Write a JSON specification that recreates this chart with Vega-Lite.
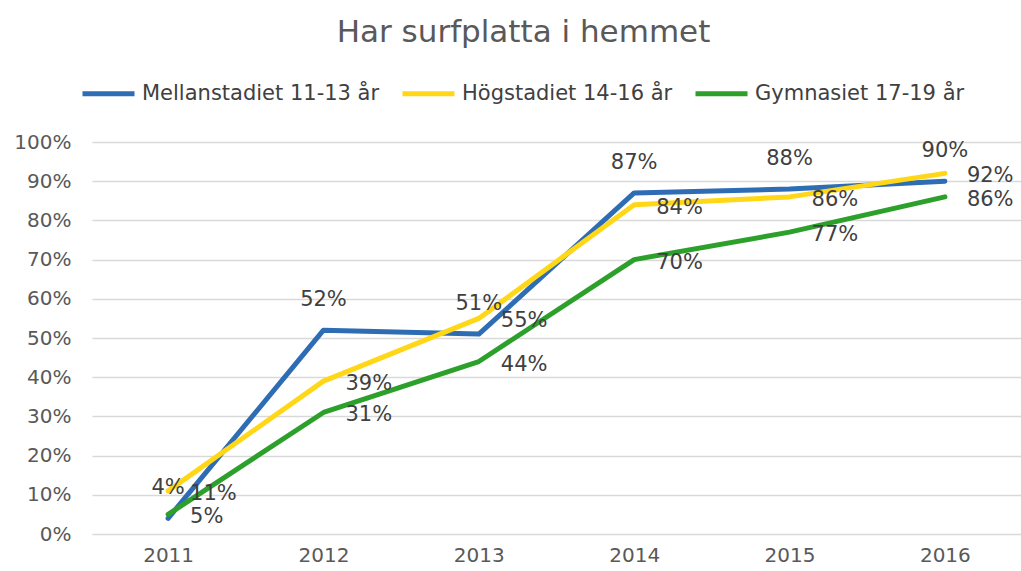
{
  "$schema": "https://vega.github.io/schema/vega-lite/v6.json",
  "autosize": {"type": "none"},
  "padding": {"left": 92, "top": 142, "right": 0, "bottom": 37},
  "width": 929,
  "height": 392,
  "background": "white",
  "title": {
    "text": "Har surfplatta i hemmet",
    "font": "DejaVu Sans",
    "fontSize": 31,
    "fontWeight": "normal",
    "color": "#595959",
    "anchor": "middle",
    "dx": -33,
    "offset": 16
  },
  "config": {
    "view": {"stroke": null},
    "font": "DejaVu Sans"
  },
  "data": {
    "values": [
      {"year": "2011", "group": "Mellanstadiet 11-13 år", "value": 0.04},
      {"year": "2012", "group": "Mellanstadiet 11-13 år", "value": 0.52},
      {"year": "2013", "group": "Mellanstadiet 11-13 år", "value": 0.51},
      {"year": "2014", "group": "Mellanstadiet 11-13 år", "value": 0.87},
      {"year": "2015", "group": "Mellanstadiet 11-13 år", "value": 0.88},
      {"year": "2016", "group": "Mellanstadiet 11-13 år", "value": 0.90},
      {"year": "2011", "group": "Högstadiet 14-16 år", "value": 0.11},
      {"year": "2012", "group": "Högstadiet 14-16 år", "value": 0.39},
      {"year": "2013", "group": "Högstadiet 14-16 år", "value": 0.55},
      {"year": "2014", "group": "Högstadiet 14-16 år", "value": 0.84},
      {"year": "2015", "group": "Högstadiet 14-16 år", "value": 0.86},
      {"year": "2016", "group": "Högstadiet 14-16 år", "value": 0.92},
      {"year": "2011", "group": "Gymnasiet 17-19 år", "value": 0.05},
      {"year": "2012", "group": "Gymnasiet 17-19 år", "value": 0.31},
      {"year": "2013", "group": "Gymnasiet 17-19 år", "value": 0.44},
      {"year": "2014", "group": "Gymnasiet 17-19 år", "value": 0.70},
      {"year": "2015", "group": "Gymnasiet 17-19 år", "value": 0.77},
      {"year": "2016", "group": "Gymnasiet 17-19 år", "value": 0.86}
    ]
  },
  "encoding": {
    "x": {
      "field": "year",
      "type": "ordinal",
      "scale": {"type": "point", "padding": 0.49},
      "axis": {
        "title": null,
        "labelAngle": 0,
        "labelFont": "DejaVu Sans",
        "labelFontSize": 20,
        "labelColor": "#595959",
        "labelPadding": 11,
        "ticks": false,
        "domain": false,
        "grid": false
      }
    },
    "y": {
      "field": "value",
      "type": "quantitative",
      "scale": {"domain": [0, 1], "nice": false},
      "axis": {
        "title": null,
        "format": ".0%",
        "values": [0, 0.1, 0.2, 0.3, 0.4, 0.5, 0.6, 0.7, 0.8, 0.9, 1],
        "labelFont": "DejaVu Sans",
        "labelFontSize": 20,
        "labelColor": "#595959",
        "labelPadding": 21,
        "ticks": false,
        "domain": false,
        "grid": true,
        "gridColor": "#d9d9d9",
        "gridWidth": 1.5
      }
    }
  },
  "layer": [
    {
      "mark": {"type": "line", "strokeWidth": 5, "strokeCap": "round", "strokeJoin": "round"},
      "encoding": {
        "color": {
          "field": "group",
          "type": "nominal",
          "sort": ["Mellanstadiet 11-13 år", "Högstadiet 14-16 år", "Gymnasiet 17-19 år"],
          "scale": {
            "domain": ["Mellanstadiet 11-13 år", "Högstadiet 14-16 år", "Gymnasiet 17-19 år"],
            "range": ["#2E6DB4", "#FFD716", "#2DA02C"]
          },
          "legend": {
            "title": null,
            "orient": "none",
            "legendX": -12,
            "legendY": -77,
            "direction": "horizontal",
            "symbolType": "stroke",
            "symbolSize": 2704,
            "symbolStrokeWidth": 5,
            "labelFont": "DejaVu Sans",
            "labelFontSize": 21,
            "labelColor": "#404040",
            "labelOffset": 5,
            "columnPadding": 12,
            "labelLimit": 400
          }
        }
      }
    },
    {
      "transform": [{"filter": "datum.group === 'Mellanstadiet 11-13 år'"}],
      "mark": {"type": "text", "font": "DejaVu Sans", "fontSize": 21, "color": "#404040", "align": "center", "baseline": "middle", "dy": -30},
      "encoding": {"text": {"field": "value", "type": "quantitative", "format": ".0%"}}
    },
    {
      "transform": [{"filter": "datum.group !== 'Mellanstadiet 11-13 år'"}],
      "mark": {"type": "text", "font": "DejaVu Sans", "fontSize": 21, "color": "#404040", "align": "left", "baseline": "middle", "dx": 22, "dy": 3},
      "encoding": {"text": {"field": "value", "type": "quantitative", "format": ".0%"}}
    }
  ]
}
